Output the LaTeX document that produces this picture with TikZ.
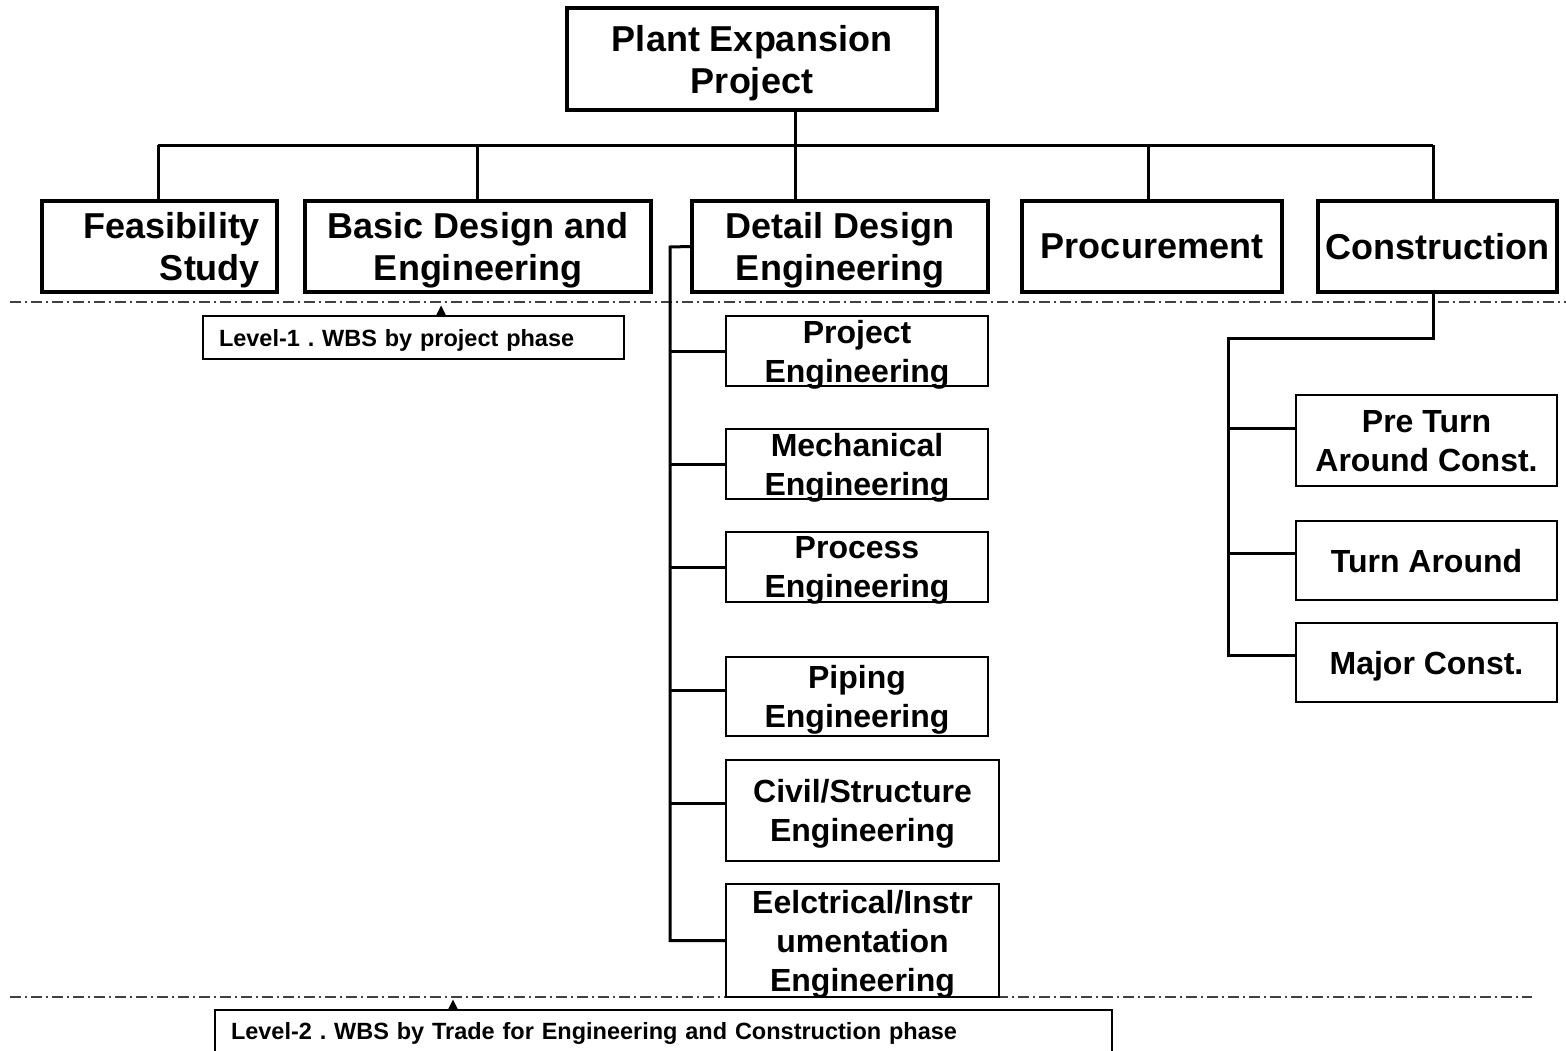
\documentclass[tikz,border=0pt]{standalone}
\usepackage{fontspec}
\setmainfont{Liberation Sans}
\begin{document}
\frenchspacing
\begin{tikzpicture}[x=1pt,y=-1pt,
  lvl/.style={draw, fill=white, line width=3.5pt, inner sep=0pt, align=center, text depth=0pt,
    font=\bfseries\fontsize{36}{42}\selectfont},
  sub/.style={draw, fill=white, line width=2.5pt, inner sep=0pt, align=center, text depth=0pt,
    font=\bfseries\fontsize{32}{39}\selectfont},
  csub/.style={draw, fill=white, line width=1.8pt, inner sep=0pt, align=center, text depth=0pt,
    font=\bfseries\fontsize{32}{39}\selectfont},
  lbl/.style={draw, fill=white, line width=1.3pt, inner ysep=0pt, inner xsep=16pt, align=left, text depth=0pt,
    font=\bfseries\fontsize{23.5}{27}\selectfont},
  conn/.style={line width=3pt},
  dashdot/.style={line width=1.4pt, black!75, dash pattern=on 11pt off 4pt on 2pt off 4pt}
]
\useasboundingbox (0,0) rectangle (1566,1050);
\fill[white] (0,0) rectangle (1566,1050);

% phase separators
\coordinate (d1a) at (10,302);
\coordinate (d1b) at (1566,302);
\coordinate (d2a) at (10,997);
\coordinate (d2b) at (1532,997);
\draw[dashdot] (d1a) -- (d1b);
\draw[dashdot] (d2a) -- (d2b);

% top
\node[lvl, minimum width=370pt, minimum height=102pt] (top) at (752,59)
  {Plant Expansion\\Project};

% level 1
\node[lvl, minimum width=235pt, minimum height=91pt, text width=201pt, align=right, inner xsep=17pt, text depth=42pt] (feas) at (159.5,246.5)
  {Feasibility\\Study};
\node[lvl, minimum width=346pt, minimum height=91pt] (basic) at (478,246.5)
  {Basic Design and\\Engineering};
\node[lvl, minimum width=296pt, minimum height=91pt] (detail) at (840,246.5)
  {Detail Design\\Engineering};
\node[lvl, minimum width=260pt, minimum height=91pt] (proc) at (1152,246.5)
  {Procurement};
\node[lvl, minimum width=239pt, minimum height=91pt] (cons) at (1437.5,246.5)
  {Construction};

% bus
\coordinate (bf) at (158,145);
\coordinate (bb) at (477,145);
\coordinate (bd) at (795,145);
\coordinate (bp) at (1148,145);
\coordinate (bc) at (1433,145);
\draw[conn] (bf) -- (bc);
\draw[conn] (bd) -- (bd |- top.south);
\draw[conn] (bf) -- (bf |- feas.north);
\draw[conn] (bb) -- (bb |- basic.north);
\draw[conn] (bd) -- (bd |- detail.north);
\draw[conn] (bp) -- (bp |- proc.north);
\draw[conn] (bc) -- (bc |- cons.north);

% detail design children
\node[sub, minimum width=262pt, minimum height=70pt] (e1) at (857,351) {Project\\Engineering};
\node[sub, minimum width=262pt, minimum height=70pt] (e2) at (857,464) {Mechanical\\Engineering};
\node[sub, minimum width=262pt, minimum height=70pt] (e3) at (857,567) {Process\\Engineering};
\node[sub, minimum width=262pt, minimum height=79pt] (e4) at (857,696.5) {Piping\\Engineering};
\node[sub, minimum width=273pt, minimum height=101pt] (e5) at (862.5,810.5) {Civil/Structure\\Engineering};
\node[sub, minimum width=273pt, minimum height=113pt] (e6) at (862.5,940.5) {Eelctrical/Instr\\umentation\\Engineering};

\coordinate (ds) at (670,247);
\draw[conn, line cap=rect] (detail.west) -- (ds) -- (ds |- e6.west) -- (e6.west);
\draw[conn] (ds |- e1.west) -- (e1.west);
\draw[conn] (ds |- e2.west) -- (e2.west);
\draw[conn] (ds |- e3.west) -- (e3.west);
\draw[conn] ([yshift=6.5pt]e4.west -| ds) -- ([yshift=6.5pt]e4.west);
\draw[conn] ([yshift=7.5pt]e5.west -| ds) -- ([yshift=7.5pt]e5.west);

% construction children
\node[csub, minimum width=261pt, minimum height=91pt] (c1) at (1426.5,440.5) {Pre Turn\\Around Const.};
\node[csub, minimum width=261pt, minimum height=79pt] (c2) at (1426.5,560.5) {Turn Around};
\node[csub, minimum width=261pt, minimum height=79pt] (c3) at (1426.5,662.5) {Major Const.};

\coordinate (cs1) at (1433,338);
\coordinate (cs2) at (1228,338);
\draw[conn, line cap=rect] ([xshift=-4.5pt]cons.south) -- (cs1) -- (cs2) -- ([yshift=7.5pt]c3.west -| cs2) -- ([yshift=7.5pt]c3.west);
\draw[conn] ([yshift=12.5pt]c1.west -| cs2) -- ([yshift=12.5pt]c1.west);
\draw[conn] ([yshift=7.5pt]c2.west -| cs2) -- ([yshift=7.5pt]c2.west);

% level labels
\node[lbl, minimum height=43pt, text width=389pt] (l1) at (413.5,337.5) {Level-1 . WBS by project phase};
\node[lbl, minimum height=42pt, text width=865pt] (l2) at (663.5,1031) {Level-2 . WBS by Trade for Engineering and Construction phase};

\coordinate (t1) at (441,316.5);
\coordinate (t2) at (453,1010.5);
\fill (t1) -- ++(-5.5,0) -- ++(5.5,-11) -- ++(5.5,11) -- cycle;
\fill (t2) -- ++(-5.5,0) -- ++(5.5,-11) -- ++(5.5,11) -- cycle;
\end{tikzpicture}
\end{document}
